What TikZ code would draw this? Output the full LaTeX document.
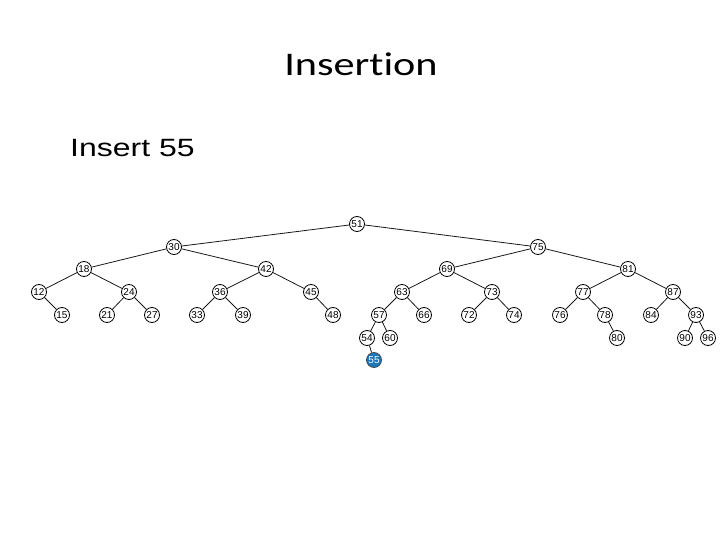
\documentclass[tikz,border=0pt]{standalone}
\usepackage{fontspec}
\setmainfont[Ligatures=NoCommon]{Carlito}
\newfontfamily\arialfont{Liberation Sans}
\usetikzlibrary{positioning}
\definecolor{insblue}{RGB}{28,118,188}

\begin{document}
\begin{tikzpicture}[
    x=1pt, y=-1pt,
    key/.style={circle, draw=black, line width=0.8pt, fill=white, inner sep=0pt, minimum size=15pt, font=\arialfont\fontsize{10}{10}\selectfont},
    newkey/.style={key, fill=insblue, draw=black!70, text=white},
    link/.style={draw=black!90, line width=0.8pt},
    heading/.style={font=\fontsize{33}{38}\selectfont},
    caption/.style={font=\arialfont\fontsize{25}{30}\selectfont}
]
\useasboundingbox (0,0) rectangle (720,540);

\node[heading, anchor=base, inner sep=0pt] (title) at (361,76) {\scalebox{1.28}[1]{Insertion}};
\node[caption, anchor=base west, inner sep=0pt] (task) at (70,157) {\scalebox{1.28}[1]{Insert 55}};

% the tree
\node[key] (k51) at (357,224) {51};
\node[key] (k30) at (174,247) {30};
\node[key] (k75) at (538,247) {75};
\node[key] (k18) at (84,269) {18};
\node[key] (k42) at (266,269) {42};
\node[key] (k69) at (447,269) {69};
\node[key] (k81) at (628,269) {81};
\node[key] (k12) at (39,292) {12};
\node[key] (k24) at (129,292) {24};
\node[key] (k36) at (220,292) {36};
\node[key] (k45) at (311,292) {45};
\node[key] (k63) at (402,292) {63};
\node[key] (k73) at (492,292) {73};
\node[key] (k77) at (583,292) {77};
\node[key] (k87) at (673,292) {87};
\node[key] (k15) at (62,315) {15};
\node[key] (k21) at (107,315) {21};
\node[key] (k27) at (152,315) {27};
\node[key] (k33) at (197,315) {33};
\node[key] (k39) at (243,315) {39};
\node[key] (k48) at (333,315) {48};
\node[key] (k57) at (379,315) {57};
\node[key] (k66) at (424,315) {66};
\node[key] (k72) at (469,315) {72};
\node[key] (k74) at (514,315) {74};
\node[key] (k76) at (560,315) {76};
\node[key] (k78) at (605,315) {78};
\node[key] (k84) at (651,315) {84};
\node[key] (k93) at (696,315) {93};
\node[key] (k54) at (367,338) {54};
\node[key] (k60) at (390,338) {60};
\node[key] (k80) at (617,338) {80};
\node[key] (k90) at (685,338) {90};
\node[key] (k96) at (708,338) {96};
\node[newkey] (k55) at (374,360) {55};

\foreach \a/\b in {51/30, 51/75, 30/18, 30/42, 75/69, 75/81,
    18/12, 18/24, 42/36, 42/45, 69/63, 69/73, 81/77, 81/87,
    12/15, 24/21, 24/27, 36/33, 36/39, 45/48, 63/57, 63/66,
    73/72, 73/74, 77/76, 77/78, 87/84, 87/93,
    57/54, 57/60, 78/80, 93/90, 93/96, 54/55}
    \draw[link] (k\a) -- (k\b);

\end{tikzpicture}
\end{document}
